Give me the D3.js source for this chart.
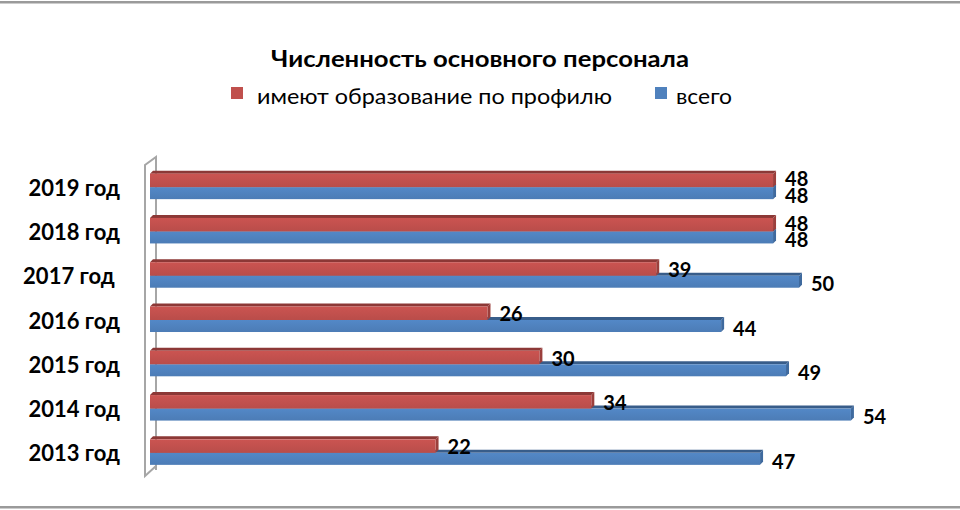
<!DOCTYPE html>
<html><head><meta charset="utf-8">
<script src="https://cdn.jsdelivr.net/npm/d3@7"></script>
<style>body{margin:0;background:#fff}svg{display:block}</style>
</head><body>
<svg id="c" width="960" height="510"></svg>
<script>
const categories = ["2019 год","2018 год","2017 год ","2016 год","2015 год","2014 год","2013 год"];
const profileValues = [48,48,39,26,30,34,22];
const totalValues = [48,48,50,44,49,54,47];
const seriesNames = ["имеют образование по профилю","всего"];
const title = "Численность основного персонала";

const svg = d3.select("#c");
const font = "Lato, 'Open Sans', sans-serif";
const colors = {red:"#C0504D", redTop:"#8C3836", redSide:"#9B3F3C", blue:"#4F81BD", blueTop:"#385D8A", blueSide:"#3F6A9E"};

// frame lines
svg.append("rect").attr("x",0).attr("y",1).attr("width",960).attr("height",2.5).attr("fill","#9a9a9a");
svg.append("rect").attr("x",0).attr("y",506).attr("width",960).attr("height",2.5).attr("fill","#9a9a9a");

// title
svg.append("text").attr("x",271).attr("y",58).attr("dominant-baseline","central")
  .attr("textLength",418).attr("lengthAdjust","spacingAndGlyphs")
  .attr("font-family",font).attr("font-weight","bold").attr("font-size",22).attr("fill","#000").text(title);

// legend
const lg = svg.append("g").attr("font-family",font).attr("font-size",22).attr("fill","#000");
lg.append("rect").attr("x",231).attr("y",87).attr("width",12).attr("height",12).attr("fill",colors.red);
lg.append("text").attr("x",257).attr("y",95).attr("dominant-baseline","central")
  .attr("textLength",355).attr("lengthAdjust","spacingAndGlyphs").text(seriesNames[0]);
lg.append("rect").attr("x",655).attr("y",87).attr("width",12).attr("height",12).attr("fill",colors.blue);
lg.append("text").attr("x",676).attr("y",95).attr("dominant-baseline","central")
  .attr("textLength",56).attr("lengthAdjust","spacingAndGlyphs").text(seriesNames[1]);

const x = d3.scaleLinear().domain([0,60]).range([150,150+60*12.98]);
const y = d3.scaleBand().domain(categories).range([162,472]).paddingInner(0.39).paddingOuter(0.195);
const D = 3; // depth
const barH = y.bandwidth()/2;

// wall
const wall = svg.append("g").attr("fill","none").attr("stroke","#a6a6a6").attr("stroke-width",2);
wall.append("path").attr("d", d3.line()([[156,470],[156,157],[145,165],[145,476],[156,466]]));

const grads = svg.append("defs");
function grad(id,c){
  const g = grads.append("linearGradient").attr("id",id).attr("x1",0).attr("y1",0).attr("x2",0).attr("y2",1);
  g.append("stop").attr("offset","0%").attr("stop-color",d3.color(c).brighter(0.15));
  g.append("stop").attr("offset","100%").attr("stop-color",d3.color(c).darker(0.1));
}
grad("gr",colors.red); grad("gb",colors.blue);

function bar(g, v, y0, h, front, top, side){
  const x0 = x(0), x1 = x(v);
  g.append("path").attr("d",`M${x0},${y0}L${x0+D},${y0-D}L${x1+D},${y0-D}L${x1},${y0}Z`).attr("fill",top);
  g.append("path").attr("d",`M${x1},${y0}L${x1+D},${y0-D}L${x1+D},${y0+h-D}L${x1},${y0+h}Z`).attr("fill",side);
  g.append("rect").attr("x",x0).attr("y",y0).attr("width",x1-x0).attr("height",h).attr("fill",front);
}

const groups = svg.append("g");
categories.forEach((c,i)=>{
  const g = groups.append("g");
  const gy = y(c)+D;
  bar(g, totalValues[i], gy+barH, barH-D/2, "url(#gb)", colors.blueTop, colors.blueSide);
  bar(g, profileValues[i], gy, barH, "url(#gr)", colors.redTop, colors.redSide);
});

// value labels
const lab = svg.append("g").attr("font-family",font).attr("font-weight","bold").attr("font-size",20).attr("fill","#000");
categories.forEach((c,i)=>{
  const gy = y(c)+D;
  const same = profileValues[i] === totalValues[i];
  lab.append("text").attr("x",x(profileValues[i])+12).attr("y",gy+barH/2-(same?2:0)).attr("dominant-baseline","central").text(profileValues[i]);
  lab.append("text").attr("x",x(totalValues[i])+12).attr("y",gy+barH*1.5+(same?1:1)).attr("dominant-baseline","central").text(totalValues[i]);
});

// category labels
const cl = svg.append("g").attr("font-family",font).attr("font-weight","bold").attr("font-size",22).attr("fill","#000");
categories.forEach((c)=>{
  cl.append("text").attr("x",120).attr("y",y(c)+y.bandwidth()/2+3).attr("text-anchor","end")
    .attr("dominant-baseline","central").style("white-space","pre").text(c);
});
</script>
</body></html>
